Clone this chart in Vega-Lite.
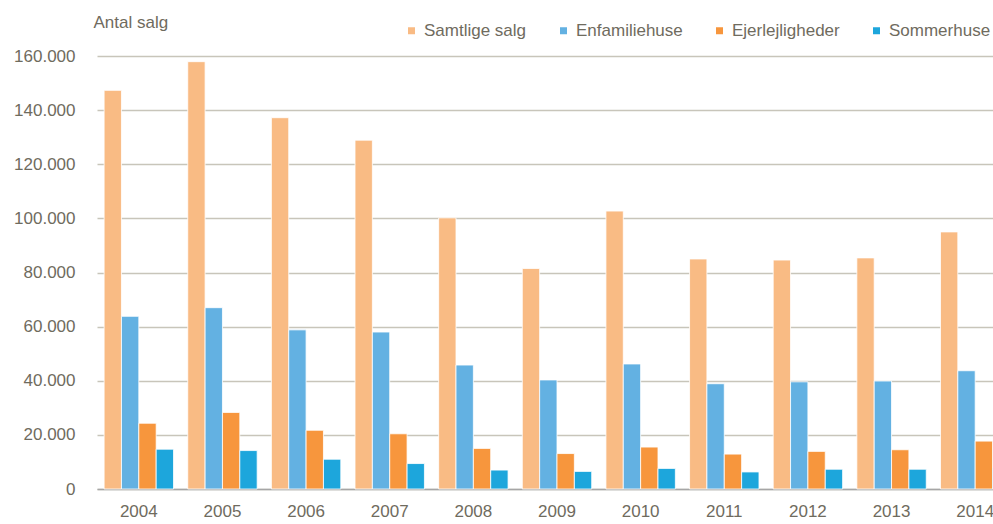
{
  "$schema": "https://vega.github.io/schema/vega-lite/v6.json",
  "autosize": "none",
  "padding": {"left": 97, "top": 56, "right": 0, "bottom": 35},
  "width": 920,
  "height": 433,
  "background": "white",
  "config": {
    "font": "Liberation Sans",
    "view": {"stroke": null}
  },
  "data": {
    "values": [
      {"year": "2004", "series": "Samtlige salg", "value": 147300},
      {"year": "2005", "series": "Samtlige salg", "value": 157900},
      {"year": "2006", "series": "Samtlige salg", "value": 137200},
      {"year": "2007", "series": "Samtlige salg", "value": 128900},
      {"year": "2008", "series": "Samtlige salg", "value": 100200},
      {"year": "2009", "series": "Samtlige salg", "value": 81500},
      {"year": "2010", "series": "Samtlige salg", "value": 102700},
      {"year": "2011", "series": "Samtlige salg", "value": 85000},
      {"year": "2012", "series": "Samtlige salg", "value": 84600},
      {"year": "2013", "series": "Samtlige salg", "value": 85400},
      {"year": "2014", "series": "Samtlige salg", "value": 95000},
      {"year": "2004", "series": "Enfamiliehuse", "value": 63800},
      {"year": "2005", "series": "Enfamiliehuse", "value": 67000},
      {"year": "2006", "series": "Enfamiliehuse", "value": 58800},
      {"year": "2007", "series": "Enfamiliehuse", "value": 58000},
      {"year": "2008", "series": "Enfamiliehuse", "value": 45800},
      {"year": "2009", "series": "Enfamiliehuse", "value": 40300},
      {"year": "2010", "series": "Enfamiliehuse", "value": 46200},
      {"year": "2011", "series": "Enfamiliehuse", "value": 38900},
      {"year": "2012", "series": "Enfamiliehuse", "value": 39600},
      {"year": "2013", "series": "Enfamiliehuse", "value": 39900},
      {"year": "2014", "series": "Enfamiliehuse", "value": 43700},
      {"year": "2004", "series": "Ejerlejligheder", "value": 24300},
      {"year": "2005", "series": "Ejerlejligheder", "value": 28300},
      {"year": "2006", "series": "Ejerlejligheder", "value": 21700},
      {"year": "2007", "series": "Ejerlejligheder", "value": 20400},
      {"year": "2008", "series": "Ejerlejligheder", "value": 15000},
      {"year": "2009", "series": "Ejerlejligheder", "value": 13100},
      {"year": "2010", "series": "Ejerlejligheder", "value": 15500},
      {"year": "2011", "series": "Ejerlejligheder", "value": 12900},
      {"year": "2012", "series": "Ejerlejligheder", "value": 13900},
      {"year": "2013", "series": "Ejerlejligheder", "value": 14500},
      {"year": "2014", "series": "Ejerlejligheder", "value": 17700},
      {"year": "2004", "series": "Sommerhuse", "value": 14700},
      {"year": "2005", "series": "Sommerhuse", "value": 14200},
      {"year": "2006", "series": "Sommerhuse", "value": 11000},
      {"year": "2007", "series": "Sommerhuse", "value": 9400},
      {"year": "2008", "series": "Sommerhuse", "value": 7000},
      {"year": "2009", "series": "Sommerhuse", "value": 6500},
      {"year": "2010", "series": "Sommerhuse", "value": 7600},
      {"year": "2011", "series": "Sommerhuse", "value": 6300},
      {"year": "2012", "series": "Sommerhuse", "value": 7300},
      {"year": "2013", "series": "Sommerhuse", "value": 7300},
      {"year": "2014", "series": "Sommerhuse", "value": 7500}
    ]
  },
  "mark": {"type": "bar", "stroke": "white", "strokeWidth": 1, "strokeOpacity": 0.8},
  "encoding": {
    "x": {
      "field": "year",
      "type": "nominal",
      "scale": {"paddingInner": 0.17, "paddingOuter": 0.085},
      "axis": {
        "title": null,
        "labelAngle": 0,
        "labelFontSize": 17,
        "labelColor": "#6F6B5E",
        "labelPadding": 14,
        "ticks": false,
        "domainColor": "#A6A6A6",
        "domainWidth": 1.5,
        "grid": false
      }
    },
    "xOffset": {
      "field": "series",
      "type": "nominal",
      "sort": ["Samtlige salg", "Enfamiliehuse", "Ejerlejligheder", "Sommerhuse"],
      "scale": {"paddingInner": 0, "paddingOuter": 0}
    },
    "y": {
      "field": "value",
      "type": "quantitative",
      "scale": {"domain": [0, 160000], "nice": false},
      "axis": {
        "title": "Antal salg",
        "titleAngle": 0,
        "titleAlign": "left",
        "titleBaseline": "middle",
        "titleX": -4,
        "titleY": -34,
        "titleFontSize": 17,
        "titleFontWeight": "normal",
        "titleColor": "#6F6B5E",
        "values": [0, 20000, 40000, 60000, 80000, 100000, 120000, 140000, 160000],
        "labelExpr": "replace(format(datum.value, ','), /,/g, '.')",
        "labelFontSize": 17,
        "labelColor": "#6F6B5E",
        "labelPadding": 22,
        "ticks": false,
        "domain": false,
        "gridColor": "#C8C5BA",
        "gridWidth": 1.5
      }
    },
    "color": {
      "field": "series",
      "type": "nominal",
      "sort": ["Samtlige salg", "Enfamiliehuse", "Ejerlejligheder", "Sommerhuse"],
      "scale": {
        "domain": ["Samtlige salg", "Enfamiliehuse", "Ejerlejligheder", "Sommerhuse"],
        "range": ["#F9BB84", "#63B1E2", "#F7963D", "#1DA6DC"]
      },
      "legend": {
        "title": null,
        "orient": "none",
        "direction": "horizontal",
        "legendX": 306,
        "legendY": -34,
        "symbolType": "square",
        "symbolSize": 49,
        "symbolStrokeWidth": 0,
        "labelFontSize": 17,
        "labelColor": "#6F6B5E",
        "labelOffset": 4,
        "columnPadding": 28,
        "labelLimit": 300
      }
    }
  }
}
